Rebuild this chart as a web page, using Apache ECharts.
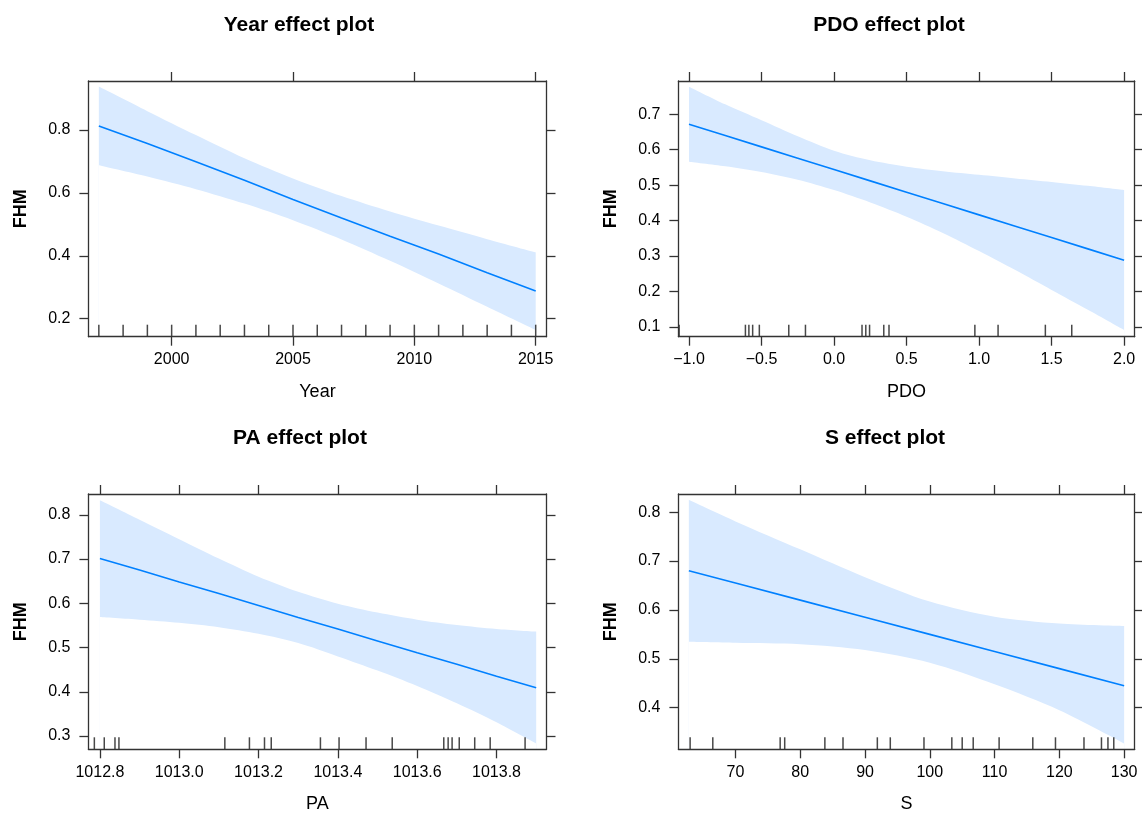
<!DOCTYPE html>
<html>
<head>
<meta charset="utf-8">
<script src="https://cdn.jsdelivr.net/npm/echarts@6/dist/echarts.min.js"></script>
<style>html,body{margin:0;padding:0;background:#fff}#c{width:1142px;height:815px}</style>
</head>
<body>
<div id="c"></div>
<script>
// ---------- data ----------
const yearX     = [1997, 1999, 2001, 2003, 2005, 2007, 2009, 2011, 2013, 2015];
const yearFit   = [0.813, 0.757, 0.699, 0.640, 0.579, 0.520, 0.462, 0.406, 0.346, 0.288];
const yearUpper = [0.938, 0.860, 0.784, 0.710, 0.646, 0.590, 0.541, 0.496, 0.453, 0.411];
const yearLower = [0.688, 0.652, 0.612, 0.566, 0.513, 0.452, 0.384, 0.312, 0.238, 0.164];
const yearRug   = [1997, 1998, 1999, 2000, 2001, 2002, 2003, 2004, 2005, 2006, 2007, 2008, 2009, 2010, 2011, 2012, 2013, 2014, 2015];
const yearXTicks = [2000, 2005, 2010, 2015];
const yearYTicks = [0.2, 0.4, 0.6, 0.8];

const pdoX     = [-1.0, -0.75, -0.5, -0.25, 0, 0.25, 0.5, 0.75, 1.0, 1.25, 1.5, 1.75, 2.0];
const pdoFit   = [0.672, 0.640, 0.608, 0.576, 0.544, 0.512, 0.480, 0.448, 0.416, 0.384, 0.352, 0.320, 0.288];
const pdoUpper = [0.778, 0.728, 0.683, 0.638, 0.597, 0.570, 0.552, 0.539, 0.529, 0.519, 0.509, 0.498, 0.486];
const pdoLower = [0.566, 0.553, 0.537, 0.515, 0.486, 0.451, 0.411, 0.365, 0.314, 0.260, 0.204, 0.148, 0.091];
const pdoRug   = [-1.068, -0.611, -0.587, -0.561, -0.515, -0.312, -0.197, 0.193, 0.219, 0.245, 0.343, 0.379, 0.971, 1.131, 1.457, 1.639];
const pdoXTicks = [-1.0, -0.5, 0.0, 0.5, 1.0, 1.5, 2.0];
const pdoYTicks = [0.1, 0.2, 0.3, 0.4, 0.5, 0.6, 0.7];

const paX     = [1012.8, 1012.9, 1013.0, 1013.1, 1013.2, 1013.3, 1013.4, 1013.5, 1013.6, 1013.7, 1013.8, 1013.9];
const paFit   = [0.701, 0.675, 0.648, 0.622, 0.595, 0.568, 0.542, 0.515, 0.488, 0.462, 0.435, 0.409];
const paUpper = [0.833, 0.789, 0.745, 0.701, 0.660, 0.626, 0.599, 0.579, 0.563, 0.551, 0.542, 0.536];
const paLower = [0.569, 0.563, 0.556, 0.546, 0.531, 0.510, 0.480, 0.448, 0.413, 0.374, 0.331, 0.283];
const paRug   = [1012.786, 1012.811, 1012.838, 1012.848, 1013.115, 1013.177, 1013.215, 1013.232, 1013.356, 1013.403, 1013.471, 1013.537, 1013.667, 1013.678, 1013.688, 1013.706, 1013.745, 1013.784, 1013.872];
const paXTicks = [1012.8, 1013.0, 1013.2, 1013.4, 1013.6, 1013.8];
const paYTicks = [0.3, 0.4, 0.5, 0.6, 0.7, 0.8];

const sX     = [62.8, 70, 80, 90, 100, 110, 120, 130];
const sFit   = [0.680, 0.655, 0.620, 0.585, 0.550, 0.515, 0.480, 0.445];
const sUpper = [0.825, 0.781, 0.724, 0.667, 0.617, 0.586, 0.572, 0.567];
const sLower = [0.535, 0.533, 0.530, 0.518, 0.492, 0.448, 0.395, 0.327];
const sRug   = [63.0, 66.5, 76.9, 77.6, 83.8, 86.6, 91.9, 93.9, 99.1, 103.4, 105.0, 106.7, 110.7, 115.9, 119.4, 123.8, 126.5, 127.5, 128.4];
const sXTicks = [70, 80, 90, 100, 110, 120, 130];
const sYTicks = [0.4, 0.5, 0.6, 0.7, 0.8];

const titles = ['Year effect plot', 'PDO effect plot', 'PA effect plot', 'S effect plot'];
const xNames = ['Year', 'PDO', 'PA', 'S'];
const yName = 'FHM';

// ---------- layout / style ----------
const FONT = '"Liberation Sans", Arial, Helvetica, sans-serif';
const AXIS_COL = '#333333';
const RUG_COL = '#1a1a1a';
const LINE_COL = '#0080ff';
const BAND_COL = '#d9eaff';

const panels = [
  {grid:{left:88.4, top:81, width:458.1, height:255.7}, xr:[1996.57, 2015.445], yr:[0.1428, 0.9558],
   x:yearX, fit:yearFit, up:yearUpper, lo:yearLower, rug:yearRug, xt:yearXTicks, yt:yearYTicks,
   fmt:v=>String(Math.round(v)), title:{x:299, y:25}},
  {grid:{left:678.4, top:81, width:456.3, height:255.7}, xr:[-1.073, 2.073], yr:[0.072, 0.794],
   x:pdoX, fit:pdoFit, up:pdoUpper, lo:pdoLower, rug:pdoRug, xt:pdoXTicks, yt:pdoYTicks,
   fmt:v=>v.toFixed(1).replace('-', '\u2212'), title:{x:889, y:25}},
  {grid:{left:88.4, top:494, width:458.1, height:255.3}, xr:[1012.771, 1013.926], yr:[0.270, 0.847],
   x:paX, fit:paFit, up:paUpper, lo:paLower, rug:paRug, xt:paXTicks, yt:paYTicks,
   fmt:v=>v.toFixed(1), title:{x:300, y:438}},
  {grid:{left:678.4, top:494, width:456.3, height:255.3}, xr:[61.19, 131.63], yr:[0.315, 0.837],
   x:sX, fit:sFit, up:sUpper, lo:sLower, rug:sRug, xt:sXTicks, yt:sYTicks,
   fmt:v=>String(Math.round(v)), title:{x:885, y:438}}
];

const grids = [], xAxes = [], yAxes = [], series = [], graphics = [];

panels.forEach((p, i) => {
  grids.push(Object.assign({containLabel:false}, p.grid));
  const lineStyle = {color: AXIS_COL, width: 1.3};
  xAxes.push({
    type:'value', gridIndex:i, position:'bottom', min:p.xr[0], max:p.xr[1], z:10,
    axisLine:{show:true, onZero:false, lineStyle},
    axisTick:{show:true, inside:false, length:9, customValues:p.xt, lineStyle},
    axisLabel:{show:true, customValues:p.xt, formatter:p.fmt, margin:15, fontSize:16, color:'#000', fontFamily:FONT},
    splitLine:{show:false},
    name:xNames[i], nameLocation:'middle', nameGap:46,
    nameTextStyle:{fontSize:18, color:'#000', fontFamily:FONT}
  });
  xAxes.push({
    type:'value', gridIndex:i, position:'top', min:p.xr[0], max:p.xr[1], z:10,
    axisLine:{show:true, onZero:false, lineStyle},
    axisTick:{show:true, inside:false, length:9, customValues:p.xt, lineStyle},
    axisLabel:{show:false}, splitLine:{show:false}
  });
  yAxes.push({
    type:'value', gridIndex:i, position:'left', min:p.yr[0], max:p.yr[1], z:10,
    axisLine:{show:true, onZero:false, lineStyle},
    axisTick:{show:true, inside:false, length:9, customValues:p.yt, lineStyle},
    axisLabel:{show:true, customValues:p.yt, formatter:v=>v.toFixed(1), margin:18, fontSize:16, color:'#000', fontFamily:FONT},
    splitLine:{show:false},
    name:yName, nameLocation:'middle', nameGap:58, nameRotate:90,
    nameTextStyle:{fontSize:18, fontWeight:'bold', color:'#000', fontFamily:FONT}
  });
  yAxes.push({
    type:'value', gridIndex:i, position:'right', min:p.yr[0], max:p.yr[1], z:10,
    axisLine:{show:true, onZero:false, lineStyle},
    axisTick:{show:true, inside:false, length:9, customValues:p.yt, lineStyle},
    axisLabel:{show:false}, splitLine:{show:false}
  });

  const xi = 2*i, yi = 2*i;
  // upper band edge, filled down to the axis minimum
  series.push({
    type:'line', xAxisIndex:xi, yAxisIndex:yi, symbol:'none', smooth:0.3,
    lineStyle:{width:0, opacity:0}, areaStyle:{color:BAND_COL, opacity:1, origin:'start'}, silent:true, z:1,
    data:p.x.map((x, k) => [x, p.up[k]])
  });
  // lower band edge, white fill below it masks the band
  series.push({
    type:'line', xAxisIndex:xi, yAxisIndex:yi, symbol:'none', smooth:0.3,
    lineStyle:{width:0, opacity:0}, areaStyle:{color:'#ffffff', opacity:1, origin:'start'}, silent:true, z:2,
    data:p.x.map((x, k) => [x, p.lo[k]])
  });
  series.push({
    type:'line', xAxisIndex:xi, yAxisIndex:yi, symbol:'none', smooth:false,
    lineStyle:{color:LINE_COL, width:1.6}, silent:true, z:3,
    data:p.x.map((x, k) => [x, p.fit[k]])
  });
  series.push({
    type:'scatter', xAxisIndex:xi, yAxisIndex:yi, symbol:'rect', symbolSize:[1.5, 12], symbolOffset:[0, -6],
    itemStyle:{color:RUG_COL}, silent:true, z:4, clip:false,
    data:p.rug.map(v => [v, p.yr[0]])
  });

  graphics.push({
    type:'text', x:p.title.x, y:p.title.y,
    style:{text:titles[i], fill:'#000', font:'bold 21px ' + FONT, textAlign:'center', textVerticalAlign:'middle'}
  });
});

const chart = echarts.init(document.getElementById('c'), null, {renderer:'canvas'});
chart.setOption({
  animation:false,
  backgroundColor:'#ffffff',
  grid:grids, xAxis:xAxes, yAxis:yAxes, series:series, graphic:graphics,
  tooltip:{show:false}
});
</script>
</body>
</html>
